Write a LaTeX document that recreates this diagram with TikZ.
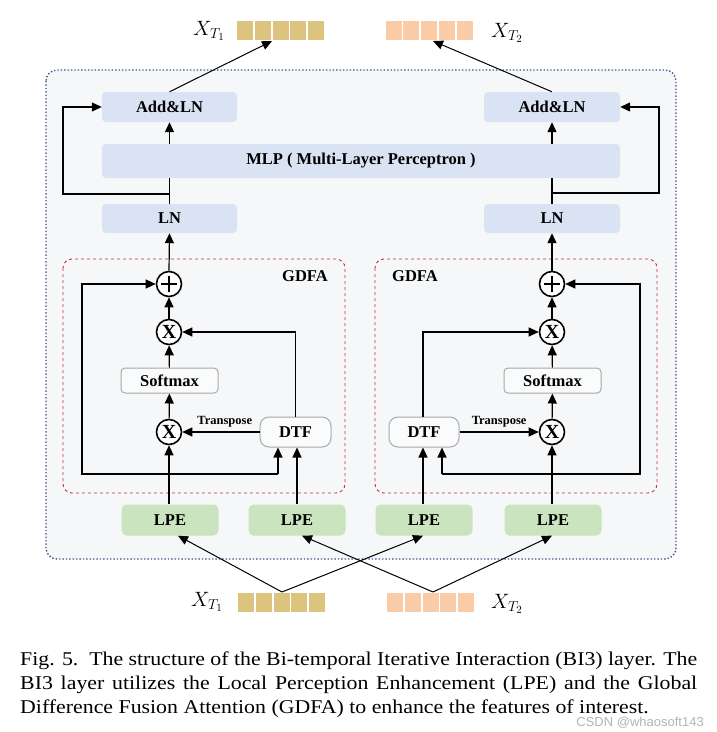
\documentclass[tikz,border=0pt]{standalone}
\usepackage{fontspec}
\setmainfont{Liberation Serif}
\setsansfont{Liberation Sans}
\newfontfamily\capfont[FakeStretch=1.12]{Liberation Serif}
\usetikzlibrary{arrows.meta}
\definecolor{outerfill}{HTML}{F6F7F9}
\definecolor{outerline}{HTML}{3F5682}
\definecolor{bluefill}{HTML}{DAE3F3}
\definecolor{greenfill}{HTML}{C9E4BE}
\definecolor{tokA}{HTML}{DCC47E}
\definecolor{tokB}{HTML}{F9CBA6}
\definecolor{gdfared}{HTML}{C8323A}
\definecolor{graybox}{HTML}{A8A8A8}
\definecolor{wmark}{HTML}{B4B4B4}
\tikzset{
  arr/.style={-{Triangle[length=10pt,width=9pt]}, line width=1.2pt},
  ln/.style={line width=1.2pt},
  bfont/.style={font=\bfseries\fontsize{16.5}{16.5}\selectfont},
  bluebox/.style={fill=bluefill, rounded corners=4pt, bfont, inner sep=0pt},
  lpebox/.style={fill=greenfill, rounded corners=5pt, minimum width=97pt, minimum height=31pt, bfont, inner sep=0pt},
  graybx/.style={draw=graybox, line width=1pt, fill=white!50!outerfill, bfont, inner sep=0pt},
  opcircle/.style={circle, draw, line width=1.6pt, fill=white, minimum size=25pt, inner sep=0pt},
  xcircle/.style={opcircle, font=\bfseries\fontsize{20}{20}\selectfont},
  gdfabox/.style={draw=gdfared, dashed, line width=0.9pt, rounded corners=9pt},
  tok/.style={minimum width=16pt, minimum height=19pt, inner sep=0pt},
  tlabel/.style={font=\fontsize{21}{21}\selectfont, inner sep=0pt},
  tpfont/.style={font=\bfseries\fontsize{12.5}{12.5}\selectfont},
}
\begin{document}
\begin{tikzpicture}[x=1pt,y=-1pt]
\useasboundingbox (0,0) rectangle (717,732);
\fill[white] (0,0) rectangle (717,732);
% outer box
\draw[outerline, line width=1.4pt, dotted, fill=outerfill, rounded corners=11pt] (46,70) rectangle (676,559);

% top blocks
\node[bluebox, minimum width=135pt, minimum height=30pt] (add1) at (169.5,107) {Add\&LN};
\node[bluebox, minimum width=136pt, minimum height=30pt] (add2) at (552,107) {Add\&LN};
\node[bluebox, minimum width=518pt, minimum height=34pt] (mlp) at (361,161) {MLP ( Multi-Layer Perceptron )};
\node[bluebox, minimum width=135pt, minimum height=29pt] (ln1) at (169.5,218.5) {LN};
\node[bluebox, minimum width=136pt, minimum height=29pt] (ln2) at (552,218.5) {LN};

% GDFA boxes
\draw[gdfabox] (63,259) rectangle (345,493);
\draw[gdfabox] (375,259) rectangle (657,493);
\node[bfont] (g1) at (305,276) {GDFA};
\node[bfont] (g2) at (415,276) {GDFA};

% left GDFA
\node[opcircle] (opL) at (169,284) {};
\draw[line width=1.5pt] ([xshift=-8pt]opL.center) -- ([xshift=8pt]opL.center) ([yshift=-8pt]opL.center) -- ([yshift=8pt]opL.center);
\node[xcircle] (xuL) at (169,332) {X};
\node[graybx, rounded corners=4pt, minimum width=97pt, minimum height=25pt] (smL) at (169.5,380.5) {Softmax};
\node[xcircle] (xlL) at (169,432) {X};
\node[graybx, rounded corners=9pt, minimum width=71pt, minimum height=30pt] (dtfL) at (295.5,432) {DTF};

% right GDFA
\node[opcircle] (opR) at (552,284) {};
\draw[line width=1.5pt] ([xshift=-8pt]opR.center) -- ([xshift=8pt]opR.center) ([yshift=-8pt]opR.center) -- ([yshift=8pt]opR.center);
\node[xcircle] (xuR) at (552,332) {X};
\node[graybx, rounded corners=4pt, minimum width=97pt, minimum height=25pt] (smR) at (552.5,380.5) {Softmax};
\node[xcircle] (xlR) at (552,432) {X};
\node[graybx, rounded corners=9pt, minimum width=70pt, minimum height=30pt] (dtfR) at (424,432) {DTF};

% LPE
\node[lpebox] (lpe1) at (170,520) {LPE};
\node[lpebox] (lpe2) at (297,520) {LPE};
\node[lpebox] (lpe3) at (424,520) {LPE};
\node[lpebox] (lpe4) at (553,520) {LPE};

% tokens
\foreach \i in {0,...,4} {
  \node[tok, fill=tokA] (ta\i) at (245+17.8*\i,30.7) {};
  \node[tok, fill=tokB] (tb\i) at (393.5+17.8*\i,30.7) {};
  \node[tok, fill=tokA] (ba\i) at (246+17.8*\i,602.5) {};
  \node[tok, fill=tokB] (bb\i) at (395+17.8*\i,602.5) {};
}
\node[tlabel] (lt1) at (209,31) {$X_{T_1}$};
\node[tlabel] (lt2) at (507,33) {$X_{T_2}$};
\node[tlabel] (lb1) at (207,602) {$X_{T_1}$};
\node[tlabel] (lb2) at (507,604) {$X_{T_2}$};

% top outputs
\coordinate (tinA) at (272,41);
\coordinate (tinB) at (433,41);
\draw[arr, line width=1pt] (add1.north) -- (tinA);
\draw[arr, line width=1pt] (add2.north) -- (tinB);

% left column
\draw[arr] (mlp.north -| add1) -- (add1.south);
\draw[ln] (ln1.north) -- (mlp.south -| ln1);
\coordinate (brL) at (169.5,194);
\coordinate (skL) at (63,194);
\draw[arr] (brL) -- (skL) |- (add1.west);
\draw[arr] (opL.north) -- (ln1.south);
\draw[arr] (xuL) -- (opL);
\draw[arr] (smL) -- (xuL);
\draw[arr] (xlL) -- (smL);
\draw[arr] (lpe1.north -| xlL) -- (xlL.south);
\draw[arr] (dtfL.west) -- node[above=1pt, tpfont, pos=0.45] (tpL) {Transpose} (xlL.east);
\draw[arr] (dtfL.north) |- (xuL.east);
\coordinate (fbL1) at (278,474);
\coordinate (fbL2) at (82,474);
\draw[arr] (fbL1) -- (fbL2) |- (opL.west);
\draw[arr] (fbL1) -- (dtfL.south -| fbL1);
\draw[arr] (lpe2.north) -- (dtfL.south -| lpe2);

% right column
\draw[arr] (mlp.north -| add2) -- (add2.south);
\draw[ln] (ln2.north) -- (mlp.south -| ln2);
\coordinate (brR) at (552,193);
\coordinate (skR) at (659,193);
\draw[arr] (brR) -- (skR) |- (add2.east);
\draw[arr] (opR.north) -- (ln2.south);
\draw[arr] (xuR) -- (opR);
\draw[arr] (smR) -- (xuR);
\draw[arr] (xlR) -- (smR);
\draw[arr] (lpe4.north -| xlR) -- (xlR.south);
\draw[arr] (dtfR.east) -- node[above=1pt, tpfont, pos=0.5] (tpR) {Transpose} (xlR.west);
\draw[arr] (dtfR.north -| 423,0) |- (xuR.west);
\coordinate (fbR1) at (442,474);
\coordinate (fbR2) at (640,474);
\draw[arr] (fbR1) -- (fbR2) |- (opR.east);
\draw[arr] (fbR1) -- (dtfR.south -| fbR1);
\draw[arr] (lpe3.north -| 423,0) -- (dtfR.south -| 423,0);

% inputs
\coordinate (apA) at (282,592);
\coordinate (apB) at (433,592);
\draw[arr, line width=1pt] (apA) -- (lpe1.south -| 178,0);
\draw[arr, line width=1pt] (apA) -- (lpe3.south -| 423,0);
\draw[arr, line width=1pt] (apB) -- (lpe2.south -| 302,0);
\draw[arr, line width=1pt] (apB) -- (lpe4.south -| 552,0);

% caption
\node[anchor=north west, inner sep=0pt, text width=677pt, align=justify, font=\capfont\fontsize{19.5}{24}\selectfont] (cap) at (20,652)
{Fig. 5.\ \ The structure of the Bi-temporal Iterative Interaction (BI3) layer. The\linebreak
BI3 layer utilizes the Local Perception Enhancement (LPE) and the Global\linebreak
Difference Fusion Attention (GDFA) to enhance the features of interest.};
\node[anchor=east, inner sep=0pt, text=wmark, font=\sffamily\fontsize{13}{13}\selectfont] (wm) at (704,723) {CSDN @whaosoft143};
\end{tikzpicture}
\end{document}
